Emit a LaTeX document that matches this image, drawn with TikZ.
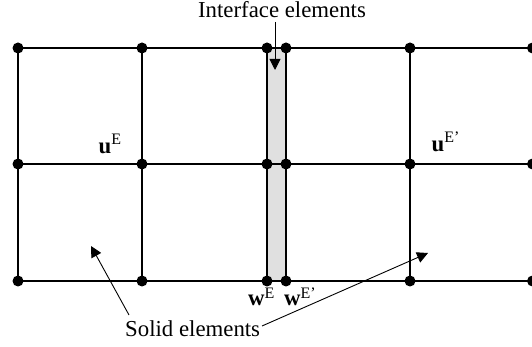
\documentclass[tikz,border=0pt]{standalone}
\usepackage{fontspec}
\setmainfont{Liberation Serif}
\usetikzlibrary{arrows.meta}
\newcommand{\fieldlbl}[3]{\textbf{#1}\raisebox{#3}{\fontsize{16}{16}\selectfont #2}}
\tikzset{
    mesh/.style={line width=2pt,black},
    dotnode/.style={circle,fill=black,inner sep=0pt,minimum size=11pt},
    pointer/.style={line width=0.9pt,-{Triangle[length=11pt,width=11pt]}},
    lbl/.style={font=\fontsize{22.8}{26}\selectfont,inner sep=0pt,text=black}
}
\begin{document}
\begin{tikzpicture}[x=1pt,y=1pt]
    \useasboundingbox (0,0) rectangle (532,347);

    % Interface strip
    \fill[black!12] (267,66) rectangle (286,299);

    % Mesh nodes
    \foreach \c/\xx in {a/18,b/142,c/267,d/286,e/410,f/532.5}
        \foreach \r/\yy in {1/299,2/183,3/66}
            \node[dotnode] (\c\r) at (\xx,\yy) {};

    % Horizontal lines
    \foreach \r in {1,2,3}
        \draw[mesh] (a\r.center) -- (f\r.center);
    % Vertical lines
    \foreach \c in {a,b,c,d,e}
        \draw[mesh] (\c1.center) -- (\c3.center);

    % Labels
    \node[lbl,anchor=base] (inter) at (282,329) {Interface elements};
    \node[lbl,anchor=base west] (solid) at (125,10) {Solid elements};
    \node[lbl,anchor=base west] (uE) at (98.5,193) {\fieldlbl{u}{E}{9pt}};
    \node[lbl,anchor=base west] (uEp) at (431.5,195) {\fieldlbl{u}{E'}{9pt}};
    \node[lbl,anchor=base west] (wE) at (248,41.5) {\fieldlbl{w}{E}{7pt}};
    \node[lbl,anchor=base west] (wEp) at (284,41.5) {\fieldlbl{w}{E'}{7pt}};

    % Arrow ends
    \coordinate (intertip) at (275,277);
    \coordinate (lefttip) at (91,101);
    \coordinate (righttip) at (428,94);
    \coordinate (lefttail) at (129,32);
    \coordinate (righttail) at (262,21);

    \draw[pointer] (275,325) -- (intertip);
    \draw[pointer] (lefttail) -- (lefttip);
    \draw[pointer] (righttail) -- (righttip);
\end{tikzpicture}
\end{document}
